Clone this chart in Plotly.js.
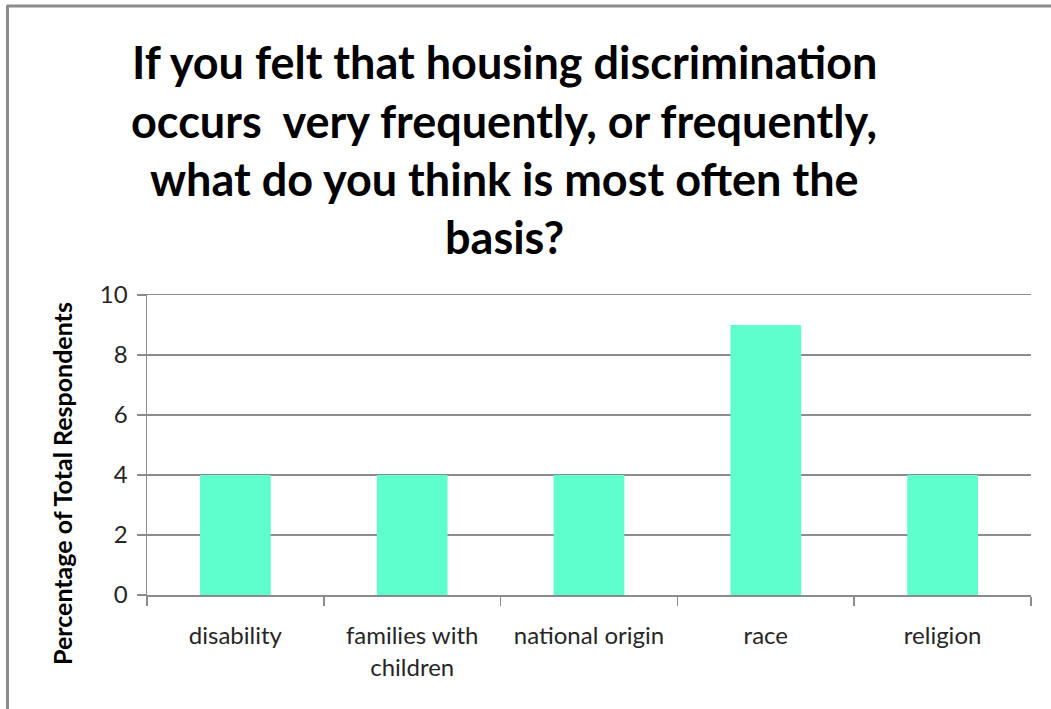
<!DOCTYPE html>
<html>
<head>
<meta charset="utf-8">
<script src="https://cdn.plot.ly/plotly-3.0.1.min.js"></script>
<style>
html,body{margin:0;padding:0;background:#fff;}
#chart{width:1051px;height:709px;}
</style>
</head>
<body>
<div id="chart"></div>
<script>
const categories = ["disability", "families with<br>children", "national origin", "race", "religion"];
const values = [4, 4, 4, 9, 4];
const yTicks = [0, 2, 4, 6, 8, 10];
const titleLines = [
  "If you felt that housing discrimination",
  "occurs  very frequently, or frequently,",
  "what do you think is most often the",
  "basis?"
];
const yTitle = "Percentage of Total Respondents";

const plotL = 147, plotR = 1031, plotT = 295, plotB = 595;
const W = 1051, H = 709;
const pw = plotR - plotL, ph = plotB - plotT;
const px = v => (v - plotL) / pw;
const py = v => (plotB - v) / ph;

const FONT = 'Lato, "Open Sans", sans-serif';
const titleY = [62, 121, 179, 237];
const annotations = titleLines.map((t, i) => ({
  text: t, xref: 'paper', yref: 'paper', x: px(504), y: py(titleY[i]),
  xanchor: 'center', yanchor: 'middle', showarrow: false,
  font: {family: FONT, size: 45, color: '#000', weight: 'bold'}
}));
annotations.push({
  text: '<b>' + yTitle + '</b>', xref: 'paper', yref: 'paper', x: px(62), y: py(484),
  xanchor: 'center', yanchor: 'middle', textangle: -90, showarrow: false,
  font: {family: FONT, size: 25, color: '#000'}
});

const trace = {
  type: 'bar', x: categories, y: values,
  marker: {color: '#5EFFCC'}, width: 0.4, hoverinfo: 'skip'
};

const layout = {
  width: W, height: H,
  margin: {l: plotL, r: W - plotR, t: plotT, b: H - plotB, pad: 0},
  paper_bgcolor: '#fff', plot_bgcolor: '#fff',
  showlegend: false,
  xaxis: {
    type: 'category', showgrid: false, showline: true, mirror: true, linecolor: '#8c8c8c', linewidth: 1.5,
    ticks: 'outside', ticklen: 9, tickcolor: '#8c8c8c', tickwidth: 1.5,
    tickson: 'boundaries', range: [-0.5, 4.5], ticklabelstandoff: 19,
    tickfont: {family: FONT, size: 24, color: '#262626'},
    zeroline: false
  },
  yaxis: {
    range: [0, 10], tickvals: yTicks, showgrid: true, gridcolor: '#8c8c8c', gridwidth: 1.2,
    showline: true, linecolor: '#8c8c8c', linewidth: 1.5,
    ticks: 'outside', ticklen: 9, tickcolor: '#8c8c8c', tickwidth: 1.5,
    ticklabelstandoff: 4,
    tickfont: {family: FONT, size: 24, color: '#262626'},
    zeroline: false, fixedrange: true
  },
  annotations: annotations,
  shapes: [
    {type: 'line', xref: 'paper', yref: 'paper', x0: px(7), x1: px(1051), y0: py(6), y1: py(6), line: {color: '#8c8c8c', width: 3}},
    {type: 'line', xref: 'paper', yref: 'paper', x0: px(7.5), x1: px(7.5), y0: py(5), y1: py(709), line: {color: '#8c8c8c', width: 3}}
  ]
};

Plotly.newPlot('chart', [trace], layout, {displayModeBar: false, staticPlot: true});
</script>
</body>
</html>
